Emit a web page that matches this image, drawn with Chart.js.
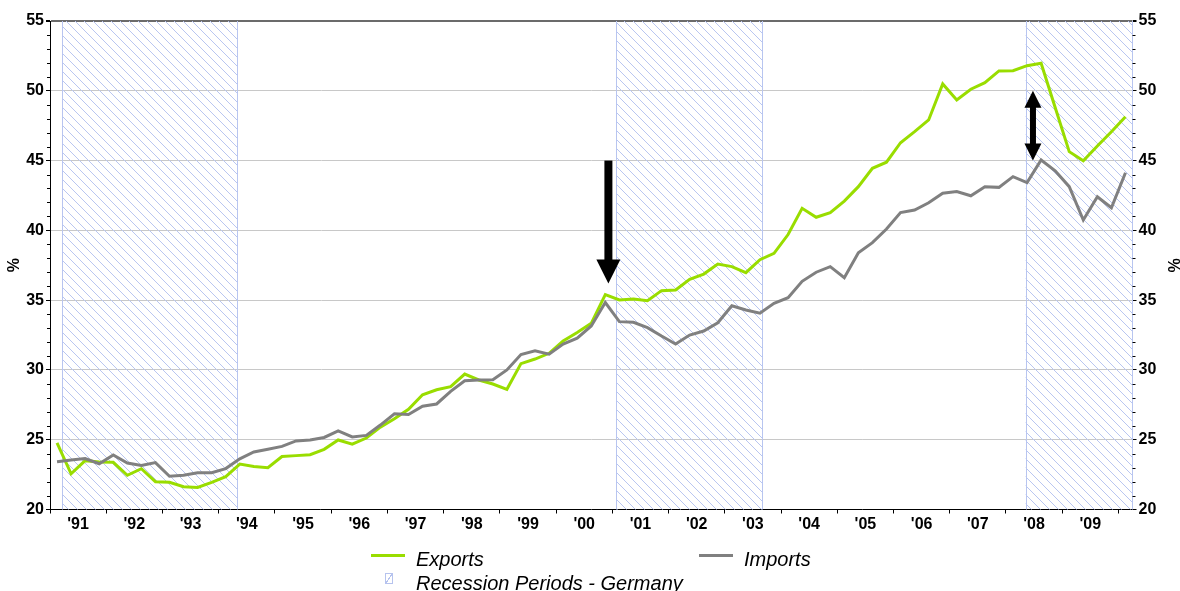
<!DOCTYPE html>
<html>
<head>
<meta charset="utf-8">
<title>Germany: Exports and Imports, % of GDP</title>
<script src="https://cdn.jsdelivr.net/npm/chart.js@4.4.1/dist/chart.umd.min.js"></script>
<style>
  html, body { margin: 0; padding: 0; background: #fff; }
  #wrap { position: relative; width: 1180px; height: 591px; overflow: hidden; }
  #c { position: absolute; left: 0; top: 0; }
  .lg { position: absolute; font-family: "Liberation Sans", Arial, sans-serif; font-style: italic;
        font-size: 20px; line-height: 1; color: #000; white-space: nowrap; }
  .sw { position: absolute; height: 3px; }
  .hb { position: absolute; width: 6px; height: 9px; border: 1px solid #b6c3ee;
        background: linear-gradient(to bottom right, transparent 45%, #b6c3ee 45%, #b6c3ee 55%, transparent 55%); }
</style>
</head>
<body>
<div id="wrap">
  <canvas id="c" width="1180" height="591"></canvas>
  <div class="sw" style="left:371px;top:554px;width:34px;background:#99dd00;"></div>
  <div class="lg" style="left:416px;top:549px;">Exports</div>
  <div class="sw" style="left:699px;top:554px;width:34px;background:#808080;"></div>
  <div class="lg" style="left:744px;top:549px;">Imports</div>
  <div class="hb" style="left:385px;top:573px;"></div>
  <div class="lg" style="left:416px;top:573px;">Recession Periods - Germany</div>
</div>
<script>
// Quarterly observations, 1991Q1 – 2010Q1
const quarters = [
  '1991Q1','1991Q2','1991Q3','1991Q4','1992Q1','1992Q2','1992Q3','1992Q4',
  '1993Q1','1993Q2','1993Q3','1993Q4','1994Q1','1994Q2','1994Q3','1994Q4',
  '1995Q1','1995Q2','1995Q3','1995Q4','1996Q1','1996Q2','1996Q3','1996Q4',
  '1997Q1','1997Q2','1997Q3','1997Q4','1998Q1','1998Q2','1998Q3','1998Q4',
  '1999Q1','1999Q2','1999Q3','1999Q4','2000Q1','2000Q2','2000Q3','2000Q4',
  '2001Q1','2001Q2','2001Q3','2001Q4','2002Q1','2002Q2','2002Q3','2002Q4',
  '2003Q1','2003Q2','2003Q3','2003Q4','2004Q1','2004Q2','2004Q3','2004Q4',
  '2005Q1','2005Q2','2005Q3','2005Q4','2006Q1','2006Q2','2006Q3','2006Q4',
  '2007Q1','2007Q2','2007Q3','2007Q4','2008Q1','2008Q2','2008Q3','2008Q4',
  '2009Q1','2009Q2','2009Q3','2009Q4','2010Q1'
];

// Exports, % of GDP
const exportsPct = [
  24.77, 22.56, 23.50, 23.40, 23.38, 22.45, 22.92, 21.99,
  21.95, 21.63, 21.58, 21.95, 22.35, 23.25, 23.08, 23.00,
  23.80, 23.86, 23.93, 24.31, 24.98, 24.68, 25.12, 25.90,
  26.50, 27.18, 28.22, 28.58, 28.80, 29.70, 29.28, 28.99,
  28.61, 30.45, 30.78, 31.19, 32.07, 32.68, 33.34, 35.40,
  35.01, 35.08, 34.96, 35.68, 35.73, 36.49, 36.87, 37.59,
  37.40, 36.97, 37.90, 38.35, 39.70, 41.58, 40.94, 41.27,
  42.10, 43.13, 44.45, 44.88, 46.28, 47.07, 47.91, 50.49,
  49.34, 50.11, 50.58, 51.42, 51.44, 51.80, 51.97, 48.80,
  45.64, 44.99, 46.04, 47.07, 48.14
];

// Imports, % of GDP
const importsPct = [
  23.42, 23.55, 23.65, 23.28, 23.90, 23.33, 23.15, 23.36,
  22.38, 22.45, 22.64, 22.64, 22.93, 23.63, 24.12, 24.32,
  24.52, 24.91, 24.98, 25.16, 25.63, 25.20, 25.31, 26.05,
  26.86, 26.80, 27.40, 27.56, 28.46, 29.22, 29.28, 29.30,
  30.00, 31.10, 31.37, 31.13, 31.85, 32.27, 33.15, 34.83,
  33.46, 33.41, 33.03, 32.43, 31.86, 32.50, 32.79, 33.38,
  34.60, 34.29, 34.06, 34.77, 35.18, 36.35, 37.00, 37.40,
  36.61, 38.40, 39.12, 40.10, 41.27, 41.46, 41.98, 42.66,
  42.78, 42.48, 43.13, 43.08, 43.85, 43.42, 45.04, 44.27,
  43.13, 40.74, 42.41, 41.62, 44.13
];

// Year labels shown under each year interval
const yearLabels = ["'91","'92","'93","'94","'95","'96","'97","'98","'99","'00",
                    "'01","'02","'03","'04","'05","'06","'07","'08","'09"];
const firstYear = 1991;

// Recession periods in Germany (decimal years)
const recessionStart = [1991.22, 2001.07, 2008.35];
const recessionEnd   = [1994.34, 2003.68, 2010.25];

// Annotation arrows (decimal year, from value, to value)
const arrowDown = { x: 2000.93, from: 45, to: 36.2 };
const arrowBoth = { x: 2008.48, from: 50, to: 45 };

const X_MIN = 1991, X_MAX = 2010.25, Y_MIN = 20, Y_MAX = 55;
const GREEN = '#99dd00', GREY = '#808080', HATCH = '#b9c6f1';
const FONT = '"Liberation Sans", Arial, sans-serif';

function quarterPos(q) {
  const y = parseInt(q.slice(0, 4), 10);
  const n = parseInt(q.slice(5), 10);
  return y + (n - 1) / 4 + 0.125;
}
const toPoints = (vals) => vals.map((v, i) => ({ x: quarterPos(quarters[i]), y: v }));

function makeHatch(ctx) {
  const c = document.createElement('canvas');
  c.width = 9; c.height = 9;
  const g = c.getContext('2d');
  g.strokeStyle = HATCH;
  g.lineWidth = 1;
  g.beginPath();
  g.moveTo(-1, -1); g.lineTo(10, 10);
  g.moveTo(-1, 8);  g.lineTo(1, 10);
  g.moveTo(8, -1);  g.lineTo(10, 1);
  g.stroke();
  return ctx.createPattern(c, 'repeat');
}

// Hatched recession bands behind the series
const recessionBands = {
  id: 'recessionBands',
  beforeDatasetsDraw(chart) {
    const { ctx, chartArea: a, scales: { x } } = chart;
    const pat = makeHatch(ctx);
    ctx.save();
    for (let i = 0; i < recessionStart.length; i++) {
      const x0 = x.getPixelForValue(recessionStart[i]);
      const x1 = x.getPixelForValue(Math.min(recessionEnd[i], X_MAX));
      ctx.fillStyle = pat;
      ctx.fillRect(x0, a.top, x1 - x0, a.bottom - a.top);
      ctx.strokeStyle = '#b8c5f0';
      ctx.lineWidth = 1;
      ctx.beginPath();
      ctx.moveTo(Math.round(x0) + 0.5, a.top); ctx.lineTo(Math.round(x0) + 0.5, a.bottom);
      ctx.moveTo(Math.round(x1) - 0.5, a.top); ctx.lineTo(Math.round(x1) - 0.5, a.bottom);
      ctx.stroke();
    }
    ctx.restore();
  }
};

// Minor tick marks on both value axes, every 1 %
const minorTicks = {
  id: 'minorTicks',
  afterDraw(chart) {
    const { ctx, scales: { y, y2 } } = chart;
    ctx.save();
    ctx.strokeStyle = '#000';
    ctx.lineWidth = 1;
    ctx.beginPath();
    for (let v = Y_MIN + 1; v < Y_MAX; v++) {
      if (v % 5 === 0) continue;
      const py = Math.round(y.getPixelForValue(v)) + 0.5;
      ctx.moveTo(y.right - 3, py); ctx.lineTo(y.right, py);
      ctx.moveTo(y2.left, py); ctx.lineTo(y2.left + 3, py);
    }
    ctx.stroke();
    ctx.restore();
  }
};

function drawHead(ctx, px, tipY, dir, len, half) {
  ctx.beginPath();
  ctx.moveTo(px, tipY);
  ctx.lineTo(px - half, tipY - dir * len);
  ctx.lineTo(px + half, tipY - dir * len);
  ctx.closePath();
  ctx.fill();
}

// Black annotation arrows
const arrows = {
  id: 'arrows',
  afterDatasetsDraw(chart) {
    const { ctx, scales: { x, y } } = chart;
    ctx.save();
    ctx.fillStyle = '#000';
    // single arrow pointing down
    let px = x.getPixelForValue(arrowDown.x);
    let top = y.getPixelForValue(arrowDown.from);
    let tip = y.getPixelForValue(arrowDown.to);
    ctx.fillRect(px - 4, top, 8, tip - top - 22);
    drawHead(ctx, px, tip, 1, 24, 12);
    // double-headed arrow
    px = x.getPixelForValue(arrowBoth.x);
    const t1 = y.getPixelForValue(arrowBoth.from);
    const t2 = y.getPixelForValue(arrowBoth.to);
    ctx.fillRect(px - 3, t1 + 16, 6, t2 - t1 - 32);
    drawHead(ctx, px, t1, -1, 17, 8.5);
    drawHead(ctx, px, t2, 1, 17, 8.5);
    ctx.restore();
  }
};

const tickFont = { family: FONT, size: 16, weight: 'bold' };

const valueAxis = (position, onArea) => ({
  type: 'linear',
  position,
  min: Y_MIN, max: Y_MAX,
  afterBuildTicks: (s) => {
    const t = [];
    for (let v = Y_MIN; v <= Y_MAX; v += 5) t.push({ value: v });
    s.ticks = t;
  },
  afterFit: (s) => { s.width = position === 'left' ? 50 : 47.5; },
  ticks: { font: tickFont, color: '#000', padding: 2, callback: (v) => String(v) },
  grid: {
    drawOnChartArea: onArea,
    drawTicks: true,
    tickLength: 4,
    tickColor: '#000',
    color: (ctx) => {
      const v = ctx.tick && ctx.tick.value;
      if (v === Y_MAX) return '#6b6b6b';
      if (v === Y_MIN) return 'rgba(0,0,0,0)';
      return '#c8c8c8';
    },
    lineWidth: (ctx) => (ctx.tick && ctx.tick.value === Y_MAX ? 2 : 1)
  },
  border: { display: true, color: '#000', width: 1 },
  title: {
    display: true, text: '%', color: '#000',
    font: { family: FONT, size: 16, weight: 'bold', lineHeight: 1 },
    padding: { top: position === 'left' ? 7 : 0, bottom: 0 }
  }
});

new Chart(document.getElementById('c'), {
  type: 'line',
  data: {
    datasets: [
      { label: 'Exports', data: toPoints(exportsPct), borderColor: GREEN, borderWidth: 3,
        pointRadius: 0, tension: 0, fill: false, order: 1 },
      { label: 'Imports', data: toPoints(importsPct), borderColor: GREY, borderWidth: 3,
        pointRadius: 0, tension: 0, fill: false, order: 0 }
    ]
  },
  options: {
    responsive: false,
    devicePixelRatio: 1,
    animation: false,
    events: [],
    layout: { padding: { top: 21, left: 0, right: 0, bottom: 51.5 } },
    plugins: { legend: { display: false }, tooltip: { enabled: false }, title: { display: false } },
    scales: {
      x: {
        type: 'linear',
        min: X_MIN, max: X_MAX,
        afterBuildTicks: (s) => {
          const t = [];
          for (let i = 0; i <= yearLabels.length; i++) {
            t.push({ value: firstYear + i });
            if (i < yearLabels.length) t.push({ value: firstYear + i + 0.5 });
          }
          s.ticks = t;
        },
        afterFit: (s) => { s.height = 30; },
        ticks: {
          autoSkip: false, maxRotation: 0, minRotation: 0,
          font: tickFont, color: '#000', padding: 1,
          callback: (v) => {
            const k = v - firstYear - 0.5;
            return Number.isInteger(k) ? yearLabels[k] : '';
          }
        },
        grid: {
          drawOnChartArea: false, drawTicks: true, tickLength: 4,
          tickColor: (ctx) => (ctx.tick && Number.isInteger(ctx.tick.value) ? '#000' : 'rgba(0,0,0,0)')
        },
        border: { display: true, color: '#000', width: 1 }
      },
      y: valueAxis('left', true),
      y2: valueAxis('right', false)
    }
  },
  plugins: [recessionBands, arrows, minorTicks]
});
</script>
</body>
</html>
